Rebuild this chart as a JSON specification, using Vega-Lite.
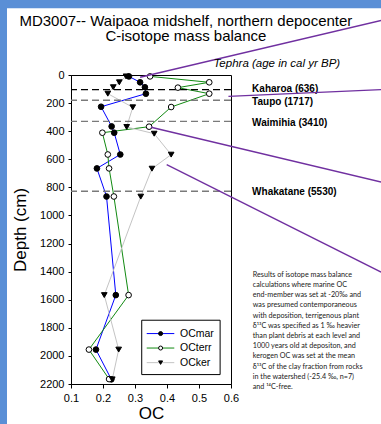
{
  "$schema": "https://vega.github.io/schema/vega-lite/v6.json",
  "width": 160,
  "height": 309,
  "autosize": "none",
  "padding": {"left": 71, "top": 75, "right": 150, "bottom": 40},
  "background": "white",
  "config": {
    "view": {"stroke": "black", "strokeWidth": 1},
    "font": "Liberation Sans"
  },
  "resolve": {"axis": {"x": "independent", "y": "independent"}},
  "datasets": {
    "oc": [
      {"series": "OCmar", "depth": 10, "oc": 0.281},
      {"series": "OCmar", "depth": 52, "oc": 0.316},
      {"series": "OCmar", "depth": 87, "oc": 0.331},
      {"series": "OCmar", "depth": 133, "oc": 0.334},
      {"series": "OCmar", "depth": 226, "oc": 0.194},
      {"series": "OCmar", "depth": 366, "oc": 0.227},
      {"series": "OCmar", "depth": 411, "oc": 0.235},
      {"series": "OCmar", "depth": 566, "oc": 0.254},
      {"series": "OCmar", "depth": 665, "oc": 0.181},
      {"series": "OCmar", "depth": 865, "oc": 0.211},
      {"series": "OCmar", "depth": 1567, "oc": 0.240},
      {"series": "OCmar", "depth": 1955, "oc": 0.178},
      {"series": "OCmar", "depth": 2167, "oc": 0.226},
      {"series": "OCterr", "depth": 10, "oc": 0.347},
      {"series": "OCterr", "depth": 52, "oc": 0.532},
      {"series": "OCterr", "depth": 90, "oc": 0.434},
      {"series": "OCterr", "depth": 133, "oc": 0.532},
      {"series": "OCterr", "depth": 228, "oc": 0.413},
      {"series": "OCterr", "depth": 368, "oc": 0.344},
      {"series": "OCterr", "depth": 411, "oc": 0.198},
      {"series": "OCterr", "depth": 566, "oc": 0.215},
      {"series": "OCterr", "depth": 665, "oc": 0.219},
      {"series": "OCterr", "depth": 865, "oc": 0.234},
      {"series": "OCterr", "depth": 1567, "oc": 0.280},
      {"series": "OCterr", "depth": 1955, "oc": 0.156},
      {"series": "OCterr", "depth": 2165, "oc": 0.219},
      {"series": "OCker", "depth": 10, "oc": 0.272},
      {"series": "OCker", "depth": 52, "oc": 0.251},
      {"series": "OCker", "depth": 87, "oc": 0.232},
      {"series": "OCker", "depth": 133, "oc": 0.215},
      {"series": "OCker", "depth": 230, "oc": 0.293},
      {"series": "OCker", "depth": 370, "oc": 0.274},
      {"series": "OCker", "depth": 418, "oc": 0.360},
      {"series": "OCker", "depth": 567, "oc": 0.413},
      {"series": "OCker", "depth": 667, "oc": 0.353},
      {"series": "OCker", "depth": 866, "oc": 0.318},
      {"series": "OCker", "depth": 1567, "oc": 0.204},
      {"series": "OCker", "depth": 1955, "oc": 0.249},
      {"series": "OCker", "depth": 2167, "oc": 0.229}
    ],
    "tephra": [
      {"name": "Kaharoa", "label": "Kaharoa (636)", "depth": 104, "labelDepth": 97},
      {"name": "Taupo", "label": "Taupo (1717)", "depth": 180, "labelDepth": 192},
      {"name": "Waimihia", "label": "Waimihia (3410)", "depth": 330, "labelDepth": 340},
      {"name": "Whakatane", "label": "Whakatane (5530)", "depth": 828, "labelDepth": 830}
    ],
    "pointers": [
      {"x1": 0.316, "d1": 16, "x2": 1.069, "d2": -388},
      {"x1": 0.592, "d1": 152, "x2": 1.069, "d2": 104},
      {"x1": 0.35, "d1": 372, "x2": 1.069, "d2": 762},
      {"x1": 0.399, "d1": 638, "x2": 1.069, "d2": 1403}
    ],
    "legend": [
      {"series": "OCmar", "ly": 1841},
      {"series": "OCterr", "ly": 1944},
      {"series": "OCker", "ly": 2048}
    ]
  },
  "layer": [
    {
      "data": {"name": "oc"},
      "mark": {"type": "line", "strokeWidth": 1, "clip": false},
      "encoding": {
        "x": {"field": "oc", "type": "quantitative",
          "scale": {"domain": [0.1, 0.6], "nice": false, "zero": false},
          "axis": {"title": "OC", "values": [0.1, 0.2, 0.3, 0.4, 0.5, 0.6], "format": ".1f", "grid": false, "labelOverlap": false,
            "domainColor": "black", "tickColor": "black", "labelColor": "black", "titleColor": "black",
            "labelFontSize": 11, "labelFont": "Liberation Sans", "tickSize": 4, "labelPadding": 4,
            "titleFontSize": 17, "titleFontWeight": "normal", "titleFont": "Liberation Sans", "titlePadding": 2, "labelFlush": false}},
        "y": {"field": "depth", "type": "quantitative",
          "scale": {"domain": [0, 2200], "reverse": true, "nice": false, "zero": false},
          "axis": {"title": "Depth (cm)", "values": [0, 200, 400, 600, 800, 1000, 1200, 1400, 1600, 1800, 2000, 2200], "format": "d", "grid": false, "labelOverlap": false,
            "domainColor": "black", "tickColor": "black", "labelColor": "black", "titleColor": "black",
            "labelFontSize": 11, "labelFont": "Liberation Sans", "tickSize": 3, "labelPadding": 4,
            "titleFontSize": 17, "titleFontWeight": "normal", "titleFont": "Liberation Sans", "titlePadding": 10, "labelFlush": false}},
        "color": {"field": "series", "type": "nominal",
          "scale": {"domain": ["OCmar", "OCterr", "OCker"], "range": ["#0000ff", "#118a11", "#c4c4c4"]}, "legend": null},
        "order": {"field": "depth", "type": "quantitative"}
      }
    },
    {
      "data": {"name": "tephra"},
      "mark": {"type": "rule", "strokeDash": [7, 4], "strokeWidth": 1.4},
      "encoding": {
        "y": {"field": "depth", "type": "quantitative", "scale": {"domain": [0, 2200], "reverse": true, "nice": false, "zero": false}, "axis": null},
        "stroke": {"field": "name", "type": "nominal",
          "scale": {"domain": ["Kaharoa", "Taupo", "Waimihia", "Whakatane"], "range": ["#000000", "#7a7a7a", "#7a7a7a", "#7a7a7a"]}, "legend": null}
      }
    },
    {
      "data": {"name": "tephra"},
      "mark": {"type": "text", "align": "left", "baseline": "middle", "fontWeight": "bold", "fontSize": 10, "font": "Liberation Sans", "color": "black", "clip": false},
      "encoding": {
        "x": {"datum": 0.666, "type": "quantitative", "scale": {"domain": [0.1, 0.6], "nice": false, "zero": false}, "axis": null},
        "y": {"field": "labelDepth", "type": "quantitative", "scale": {"domain": [0, 2200], "reverse": true, "nice": false, "zero": false}, "axis": null},
        "text": {"field": "label"}
      }
    },
    {
      "data": {"name": "oc"},
      "mark": {"type": "point", "filled": false, "stroke": "black", "strokeWidth": 1, "size": 32, "opacity": 1, "clip": false},
      "encoding": {
        "x": {"field": "oc", "type": "quantitative", "scale": {"domain": [0.1, 0.6], "nice": false, "zero": false}, "axis": null},
        "y": {"field": "depth", "type": "quantitative", "scale": {"domain": [0, 2200], "reverse": true, "nice": false, "zero": false}, "axis": null},
        "shape": {"field": "series", "type": "nominal",
          "scale": {"domain": ["OCmar", "OCterr", "OCker"], "range": ["circle", "circle", "triangle-down"]}, "legend": null},
        "fill": {"field": "series", "type": "nominal",
          "scale": {"domain": ["OCmar", "OCterr", "OCker"], "range": ["#000000", "#ffffff", "#000000"]}, "legend": null}
      }
    },
    {
      "data": {"name": "pointers"},
      "mark": {"type": "rule", "color": "#7030a0", "strokeWidth": 1.3, "clip": false},
      "encoding": {
        "x": {"field": "x1", "type": "quantitative", "scale": {"domain": [0.1, 0.6], "nice": false, "zero": false}, "axis": null},
        "x2": {"field": "x2"},
        "y": {"field": "d1", "type": "quantitative", "scale": {"domain": [0, 2200], "reverse": true, "nice": false, "zero": false}, "axis": null},
        "y2": {"field": "d2"}
      }
    },
    {
      "data": {"values": [{"label": "MD3007-- Waipaoa midshelf, northern depocenter\nC-isotope mass balance"}]},
      "mark": {"type": "text", "align": "center", "baseline": "top", "fontSize": 15, "font": "Liberation Sans", "color": "black", "lineBreak": "\n", "lineHeight": 15.3, "clip": false},
      "encoding": {
        "x": {"datum": 0.459, "type": "quantitative", "scale": {"domain": [0.1, 0.6], "nice": false, "zero": false}, "axis": null},
        "y": {"datum": -435, "type": "quantitative", "scale": {"domain": [0, 2200], "reverse": true, "nice": false, "zero": false}, "axis": null},
        "text": {"field": "label"}
      }
    },
    {
      "data": {"values": [{"label": "Tephra (age in cal yr BP)"}]},
      "mark": {"type": "text", "align": "left", "baseline": "middle", "fontStyle": "italic", "fontSize": 11.5, "font": "Liberation Sans", "color": "black", "clip": false},
      "encoding": {
        "x": {"datum": 0.545, "type": "quantitative", "scale": {"domain": [0.1, 0.6], "nice": false, "zero": false}, "axis": null},
        "y": {"datum": -81, "type": "quantitative", "scale": {"domain": [0, 2200], "reverse": true, "nice": false, "zero": false}, "axis": null},
        "text": {"field": "label"}
      }
    },
    {
      "data": {"values": [{"note": "Results of isotope mass balance\ncalculations where marine OC\nend-member was set at -20‰ and\nwas presumed contemporaneous\nwith deposition, terrigenous plant\nδ¹³C was specified as 1 ‰ heavier\nthan plant debris at each level and\n1000 years old at depositon, and\nkerogen OC was set at the mean\nδ¹³C of the clay fraction from rocks\nin the watershed (-25.4 ‰, n=7)\nand ¹⁴C-free."}]},
      "mark": {"type": "text", "align": "left", "baseline": "top", "fontSize": 7.2, "font": "Lato", "color": "#1a1a1a", "lineBreak": "\n", "lineHeight": 10.2, "clip": false},
      "encoding": {
        "x": {"datum": 0.668, "type": "quantitative", "scale": {"domain": [0.1, 0.6], "nice": false, "zero": false}, "axis": null},
        "y": {"datum": 1394, "type": "quantitative", "scale": {"domain": [0, 2200], "reverse": true, "nice": false, "zero": false}, "axis": null},
        "text": {"field": "note"}
      }
    },
    {
      "data": {"values": [{"box": "legend"}]},
      "mark": {"type": "rect", "fill": "white", "stroke": "black", "strokeWidth": 1, "clip": false},
      "encoding": {
        "x": {"datum": 0.321, "type": "quantitative", "scale": {"domain": [0.1, 0.6], "nice": false, "zero": false}, "axis": null},
        "x2": {"datum": 0.566},
        "y": {"datum": 1746, "type": "quantitative", "scale": {"domain": [0, 2200], "reverse": true, "nice": false, "zero": false}, "axis": null},
        "y2": {"datum": 2133}
      }
    },
    {
      "data": {"name": "legend"},
      "mark": {"type": "rule", "strokeWidth": 1, "clip": false},
      "encoding": {
        "x": {"datum": 0.3366, "type": "quantitative", "scale": {"domain": [0.1, 0.6], "nice": false, "zero": false}, "axis": null},
        "x2": {"datum": 0.4228},
        "y": {"field": "ly", "type": "quantitative", "scale": {"domain": [0, 2200], "reverse": true, "nice": false, "zero": false}, "axis": null},
        "color": {"field": "series", "type": "nominal",
          "scale": {"domain": ["OCmar", "OCterr", "OCker"], "range": ["#0000ff", "#118a11", "#c4c4c4"]}, "legend": null}
      }
    },
    {
      "data": {"name": "legend"},
      "mark": {"type": "point", "filled": false, "stroke": "black", "strokeWidth": 1, "size": 16, "opacity": 1, "clip": false},
      "encoding": {
        "x": {"datum": 0.38, "type": "quantitative", "scale": {"domain": [0.1, 0.6], "nice": false, "zero": false}, "axis": null},
        "y": {"field": "ly", "type": "quantitative", "scale": {"domain": [0, 2200], "reverse": true, "nice": false, "zero": false}, "axis": null},
        "shape": {"field": "series", "type": "nominal",
          "scale": {"domain": ["OCmar", "OCterr", "OCker"], "range": ["circle", "circle", "triangle-down"]}, "legend": null},
        "fill": {"field": "series", "type": "nominal",
          "scale": {"domain": ["OCmar", "OCterr", "OCker"], "range": ["#000000", "#ffffff", "#000000"]}, "legend": null}
      }
    },
    {
      "data": {"name": "legend"},
      "mark": {"type": "text", "align": "left", "baseline": "middle", "fontSize": 10.5, "font": "Liberation Sans", "color": "black", "clip": false},
      "encoding": {
        "x": {"datum": 0.4406, "type": "quantitative", "scale": {"domain": [0.1, 0.6], "nice": false, "zero": false}, "axis": null},
        "y": {"field": "ly", "type": "quantitative", "scale": {"domain": [0, 2200], "reverse": true, "nice": false, "zero": false}, "axis": null},
        "text": {"field": "series"}
      }
    },
    {
      "data": {"values": [{"part": "left"}]},
      "mark": {"type": "rect", "fill": "#5a8fd6", "clip": false},
      "encoding": {
        "x": {"datum": -0.13, "type": "quantitative", "scale": {"domain": [0.1, 0.6], "nice": false, "zero": false}, "axis": null},
        "x2": {"datum": -0.1},
        "y": {"datum": -545, "type": "quantitative", "scale": {"domain": [0, 2200], "reverse": true, "nice": false, "zero": false}, "axis": null},
        "y2": {"datum": 2700}
      }
    },
    {
      "data": {"values": [{"part": "top"}]},
      "mark": {"type": "rect", "fill": "#5a8fd6", "clip": false},
      "encoding": {
        "x": {"datum": -0.13, "type": "quantitative", "scale": {"domain": [0.1, 0.6], "nice": false, "zero": false}, "axis": null},
        "x2": {"datum": 1.2},
        "y": {"datum": -545, "type": "quantitative", "scale": {"domain": [0, 2200], "reverse": true, "nice": false, "zero": false}, "axis": null},
        "y2": {"datum": -475}
      }
    }
  ]
}
